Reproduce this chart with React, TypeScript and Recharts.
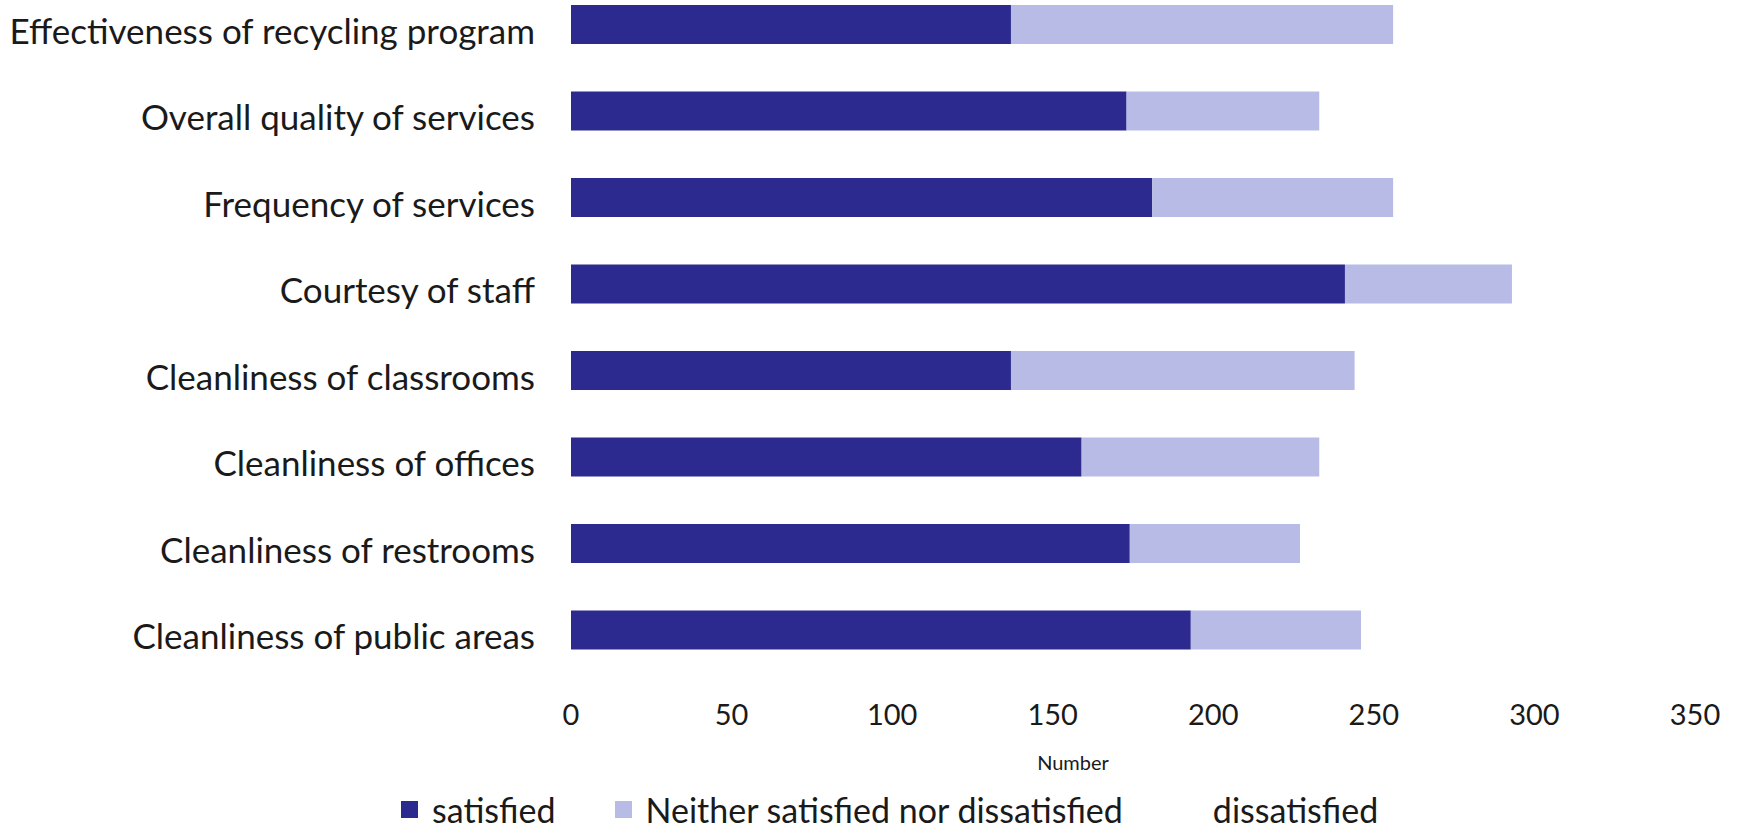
import { Bar, BarChart, Legend, XAxis, YAxis } from "recharts";

const CATEGORIES = [
  "Effectiveness of recycling program",
  "Overall quality of services",
  "Frequency of services",
  "Courtesy of staff",
  "Cleanliness of classrooms",
  "Cleanliness of offices",
  "Cleanliness of restrooms",
  "Cleanliness of public areas",
];
const SATISFIED = [137, 173, 181, 241, 137, 159, 174, 193];
const NEITHER = [119, 60, 75, 52, 107, 74, 53, 53];
const X_TICKS = [0, 50, 100, 150, 200, 250, 300, 350];

const SERIES = [
  { key: "satisfied", name: "satisfied", color: "#2c2a8f" },
  { key: "neither", name: "Neither satisfied nor dissatisfied", color: "#b8bbe5" },
  { key: "dissatisfied", name: "dissatisfied", color: "#ffffff" },
];

const rows = CATEGORIES.map((name, i) => ({
  name,
  satisfied: SATISFIED[i],
  neither: NEITHER[i],
}));

const FONT = "Lato, 'Open Sans', sans-serif";

function LegendRow() {
  return (
    <div style={{ display: "flex", alignItems: "center", paddingLeft: 401, fontFamily: FONT, fontSize: 34, color: "#1a1a1a" }}>
      {SERIES.map((s) => (
        <div key={s.key} style={{ display: "flex", alignItems: "center", marginRight: 59 }}>
          <span style={{ display: "inline-block", width: 17, height: 17, background: s.color, marginRight: 14 }} />
          <span>{s.name}</span>
        </div>
      ))}
    </div>
  );
}

export default function App() {
  return (
    <div style={{ position: "absolute", left: 0, top: 0, width: 1747, height: 830, background: "#fff", overflow: "hidden" }}>
      <BarChart
        width={1747}
        height={830}
        data={rows}
        layout="vertical"
        margin={{ top: -19, right: 52, bottom: 57, left: 0 }}
        barSize={39}
      >
        <XAxis
          type="number"
          domain={[0, 350]}
          ticks={X_TICKS}
          axisLine={false}
          tickLine={false}
          tickSize={0}
          tickMargin={31}
          height={100}
          tick={{ fontFamily: FONT, fontSize: 29, fill: "#1a1a1a" }}
          label={{ value: "Number", position: "insideBottom", offset: 3, dx: -60, style: { fontFamily: FONT, fontSize: 20, fill: "#1a1a1a" } }}
        />
        <YAxis
          type="category"
          dataKey="name"
          width={571}
          axisLine={false}
          tickLine={false}
          tickSize={0}
          tickMargin={36}
          interval={0}
          tick={{ fontFamily: FONT, fontSize: 35, fill: "#1a1a1a", dy: 7 }}
        />
        <Legend
          layout="horizontal"
          verticalAlign="middle"
          wrapperStyle={{ top: 789, left: 0, width: 1747 }}
          content={() => <LegendRow />}
        />
        <Bar dataKey="satisfied" name="satisfied" stackId="a" fill={SERIES[0].color} isAnimationActive={false} />
        <Bar dataKey="neither" name="Neither satisfied nor dissatisfied" stackId="a" fill={SERIES[1].color} isAnimationActive={false} />
      </BarChart>
    </div>
  );
}
